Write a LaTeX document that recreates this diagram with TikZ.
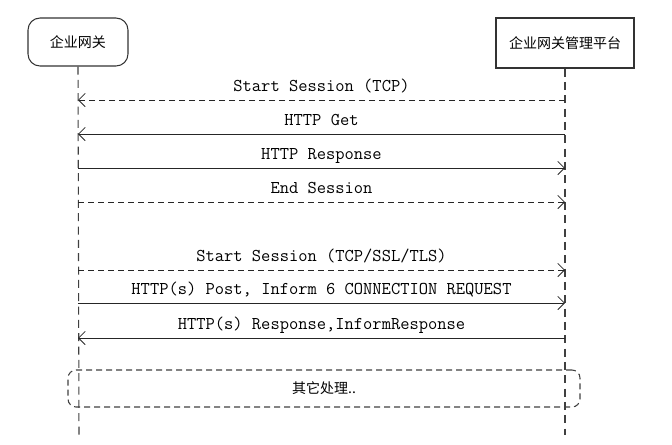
\documentclass[tikz,border=0pt]{standalone}
\usepackage{fontspec}
\newfontfamily\cjk{Noto Sans CJK SC}
\usetikzlibrary{arrows.meta,positioning}

\begin{document}
\begin{tikzpicture}[x=0.75pt,y=-0.75pt,
    actor/.style={draw=black!80,line width=0.8pt,font=\cjk\fontsize{10.5}{12}\selectfont},
    life/.style={draw=black!75,line width=0.8pt,dash pattern=on 6pt off 4pt},
    msg/.style={draw=black!85,line width=0.6pt,-{Straight Barb[length=5pt,width=10pt]}},
    async/.style={msg,dash pattern=on 4.5pt off 3pt},
    lbl/.style={font=\ttfamily\fontsize{13.5}{14}\selectfont,text depth=3pt,above,midway}
  ]
  \useasboundingbox (0,0) rectangle (672,444);

  % participants
  \node[actor,rounded corners=9pt,minimum width=75pt,minimum height=36pt] (gw) at (78,42) {企业网关};
  \node[actor,minimum width=103.5pt,minimum height=37.5pt] (pf) at (565,43) {企业网关管理平台};

  % lifelines
  \coordinate (gwend) at (79,435);
  \coordinate (pfend) at (565,435);
  \draw[life] (gw.south) -- (gwend);
  \draw[life] (pf.south) -- (pfend);

  % first session
  \draw[async] (pf.south |- 0,100) -- (gw.south |- 0,100) node[lbl] {Start Session (TCP)};
  \draw[msg] (pf.south |- 0,134) -- (gw.south |- 0,134) node[lbl] {HTTP Get};
  \draw[msg] (gw.south |- 0,168) -- (pf.south |- 0,168) node[lbl] {HTTP Response};
  \draw[async] (gw.south |- 0,202) -- (pf.south |- 0,202) node[lbl] {End Session};

  % second session
  \draw[async] (gw.south |- 0,270) -- (pf.south |- 0,270) node[lbl] {Start Session (TCP/SSL/TLS)};
  \draw[msg] (gw.south |- 0,303) -- (pf.south |- 0,303) node[lbl] {HTTP(s) Post, Inform 6 CONNECTION REQUEST};
  \draw[msg] (pf.south |- 0,338) -- (gw.south |- 0,338) node[lbl] {HTTP(s) Response,InformResponse};

  \node[draw=black!75,line width=0.8pt,dash pattern=on 4.5pt off 3pt,rounded corners=6pt,
    minimum width=384pt,minimum height=27.75pt,font=\cjk\fontsize{10.5}{12}\selectfont]
    (other) at (324,388.5) {其它处理..};
\end{tikzpicture}
\end{document}
